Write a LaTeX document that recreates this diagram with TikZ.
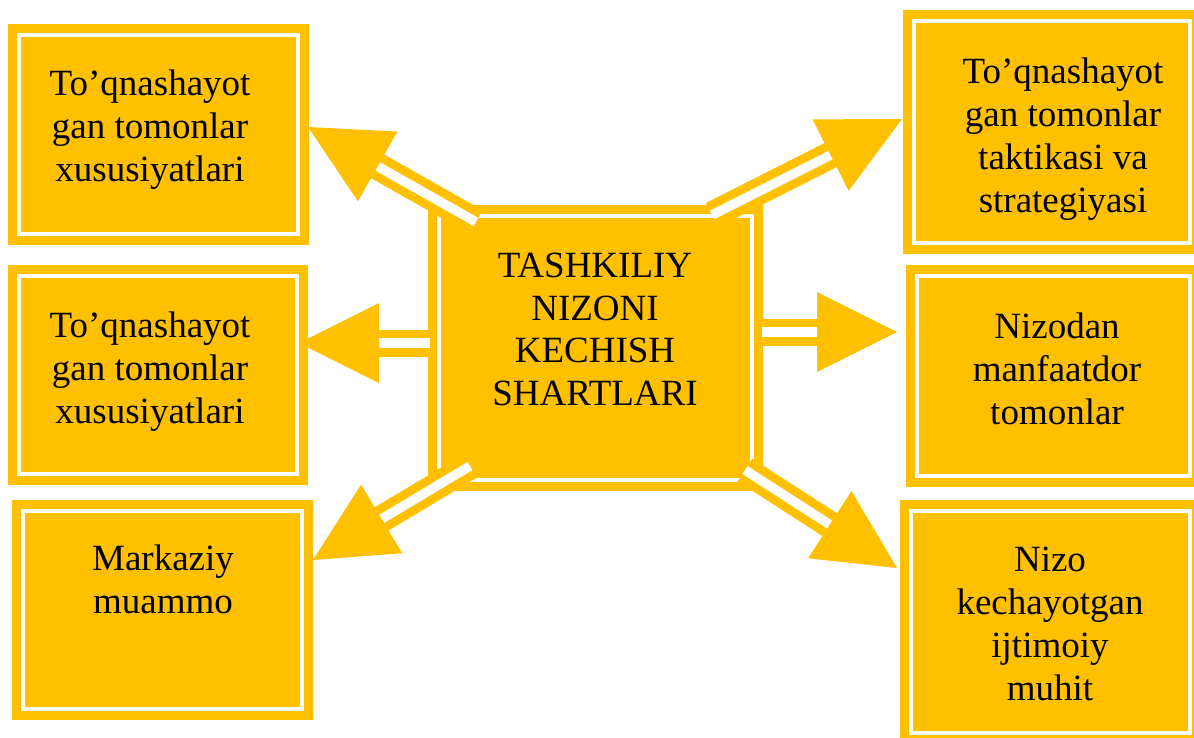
\documentclass[tikz,border=0pt]{standalone}
\usepackage{fontspec}
\setmainfont{Liberation Serif}
\usetikzlibrary{calc}
\definecolor{gold}{RGB}{255,192,0}
\tikzset{
  box/.style={draw=gold, double=white, line width=9pt, double distance=4pt,
    fill=gold, inner sep=0pt, outer sep=0pt, line join=miter},
  txt/.style={font=\fontsize{37}{43}\selectfont, align=center, inner sep=0pt, anchor=base, text=black},
}
\newcommand\blockarrow[2]{%
  \path (#2) coordinate (tp) ($(#2)!80pt!(#1)$) coordinate (bs);
  \draw[gold, line width=27pt] (#1) -- (bs);
  \draw[white, line width=9.5pt] (#1) -- (bs);
  \fill[gold] (tp) -- ($(bs)!40pt!90:(tp)$) -- ($(bs)!40pt!-90:(tp)$) -- cycle;
}
\begin{document}
\begin{tikzpicture}[x=1pt,y=-1pt]
\useasboundingbox (0,0) rectangle (1194,737);
\clip (0,0) rectangle (1194,737);
% outer boxes
\node[box, minimum width=279pt, minimum height=199pt] (L1) at (158.5,134.5) {};
\node[box, minimum width=278pt, minimum height=198pt] (L2) at (158,375) {};
\node[box, minimum width=279pt, minimum height=198pt] (L3) at (162.5,610) {};
\node[box, minimum width=276pt, minimum height=222pt] (R1) at (1052,132) {};
\node[box, minimum width=273pt, minimum height=200pt] (R2) at (1053.5,376) {};
\node[box, minimum width=279pt, minimum height=222pt] (R3) at (1050.5,622) {};
% central box
\node[box, minimum width=313pt, minimum height=264pt] (C) at (595.5,348) {};
% texts (anchor = baseline of last line)
\node[txt] (L1t) at (150,181) {To’qnashayot\\gan tomonlar\\xususiyatlari};
\node[txt] (L2t) at (150,423) {To’qnashayot\\gan tomonlar\\xususiyatlari};
\node[txt] (L3t) at (163,613) {Markaziy\\muammo};
\node[txt] (R1t) at (1063,212) {To’qnashayot\\gan tomonlar\\taktikasi va\\strategiyasi};
\node[txt] (R2t) at (1057,424) {Nizodan\\manfaatdor\\tomonlar};
\node[txt] (R3t) at (1050,700) {Nizo\\kechayotgan\\ijtimoiy\\muhit};
\node[txt, font=\fontsize{37}{42.4}\selectfont] (Ct) at (595,405) {TASHKILIY\\NIZONI\\KECHISH\\SHARTLARI};
% arrow end points
\coordinate (sUL) at ([shift={(37,6)}]C.north west);
\coordinate (sUR) at ([shift={(-40,-1)}]C.north east);
\coordinate (sL)  at ([shift={(-9,-5)}]C.west);
\coordinate (sR)  at ([shift={(10,-16)}]C.east);
\coordinate (sLL) at ([shift={(31,-14)}]C.south west);
\coordinate (sLR) at ([shift={(-7,-10)}]C.south east);
\coordinate (tUL) at ([shift={(10,-7.5)}]L1.east);
\coordinate (tL)  at ([shift={(2,-32)}]L2.east);
\coordinate (tLL) at ([shift={(11,-50)}]L3.east);
\coordinate (tUR) at ([shift={(-12,-13)}]R1.west);
\coordinate (tR)  at ([shift={(-20,-44)}]R2.west);
\coordinate (tLR) at ([shift={(-14,-54)}]R3.west);
% arrows
\blockarrow{sUL}{tUL}
\blockarrow{sUR}{tUR}
\blockarrow{sL}{tL}
\blockarrow{sR}{tR}
\blockarrow{sLL}{tLL}
\blockarrow{sLR}{tLR}
\end{tikzpicture}
\end{document}
